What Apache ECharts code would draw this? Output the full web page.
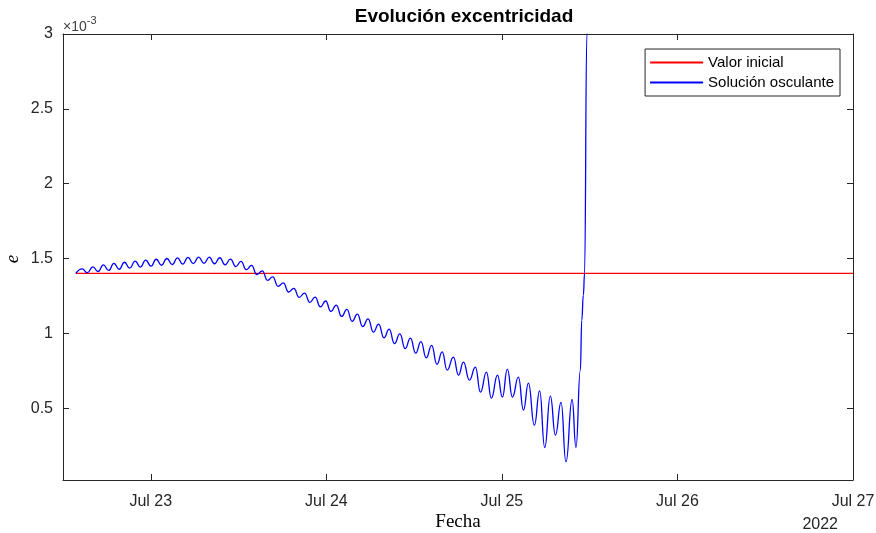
<!DOCTYPE html>
<html>
<head>
<meta charset="utf-8">
<script src="https://cdn.jsdelivr.net/npm/echarts@6/dist/echarts.min.js"></script>
<style>
html, body { margin: 0; padding: 0; background: #fff; }
#chart { width: 876px; height: 533px; }
</style>
</head>
<body>
<div id="chart"></div>
<script>
// tiempo en dias desde 22 jul 2022 00:00, excentricidad en unidades de 1e-3
var oscDays = [
    0.573,
    0.609, 0.639, 0.670, 0.700, 0.730, 0.760, 0.790, 0.820, 0.850, 0.880,
    0.911, 0.941, 0.971, 1.001, 1.031, 1.061, 1.092, 1.122, 1.152, 1.182,
    1.212, 1.242, 1.273, 1.303, 1.333, 1.363, 1.393, 1.423, 1.454, 1.484,
    1.514, 1.544, 1.574, 1.604, 1.635, 1.665, 1.695, 1.725, 1.755, 1.785,
    1.815, 1.845, 1.876, 1.906, 1.936, 1.966, 1.996, 2.026, 2.057, 2.087,
    2.117, 2.147, 2.177, 2.207, 2.238, 2.268, 2.298, 2.328, 2.358, 2.388,
    2.419, 2.449, 2.479, 2.509, 2.539, 2.569, 2.600, 2.630, 2.660, 2.688,
    2.724, 2.753, 2.781, 2.815, 2.849, 2.878, 2.912, 2.940, 2.975, 3.003,
    3.031, 3.060, 3.094, 3.123, 3.151, 3.185, 3.215, 3.244, 3.276, 3.305,
    3.337, 3.365, 3.400, 3.422,
    3.447, 3.455, 3.464, 3.471, 3.484, 3.492
];
var oscVals = [
    1.400,
    1.431, 1.405, 1.444, 1.413, 1.457, 1.420, 1.467, 1.428, 1.475, 1.436,
    1.482, 1.443, 1.489, 1.449, 1.495, 1.455, 1.500, 1.459, 1.504, 1.463,
    1.507, 1.466, 1.509, 1.467, 1.509, 1.465, 1.505, 1.458, 1.496, 1.446,
    1.481, 1.425, 1.454, 1.393, 1.417, 1.354, 1.377, 1.314, 1.337, 1.276,
    1.301, 1.240, 1.269, 1.207, 1.242, 1.177, 1.216, 1.146, 1.189, 1.113,
    1.160, 1.080, 1.128, 1.045, 1.097, 1.008, 1.062, 0.970, 1.028, 0.931,
    0.996, 0.898, 0.968, 0.868, 0.945, 0.836, 0.919, 0.793, 0.876, 0.754,
    0.841, 0.721, 0.807, 0.687, 0.774, 0.607, 0.741, 0.567, 0.721, 0.574,
    0.761, 0.574, 0.707, 0.487, 0.667, 0.386, 0.616, 0.237, 0.580, 0.320,
    0.538, 0.141, 0.558, 0.237,
    0.754, 1.088, 1.255, 1.402, 3.000, 3.300
];

var initDays = [0.573, 5.0];
var initVals = [1.40, 1.40];

var xTickDays = [1, 2, 3, 4, 5];
var yTicks = [0.5, 1, 1.5, 2, 2.5, 3];

var base = new Date(2022, 6, 22).getTime();
var DAY = 86400000;

function toPairs(days, vals) {
    return days.map(function (d, i) { return [d, vals[i]]; });
}

var axisColor = '#262626';
var fontSans = 'Liberation Sans, Arial, sans-serif';

var myChart = echarts.init(document.getElementById('chart'));

var option = {
    animation: false,
    title: {
        text: 'Evolución excentricidad',
        left: 459,
        textAlign: 'center',
        top: 2,
        textStyle: { fontFamily: fontSans, fontSize: 19, fontWeight: 'bold', color: '#000' }
    },
    legend: {
        data: ['Valor inicial', 'Solución osculante'],
        orient: 'vertical',
        right: 36,
        top: 49,
        itemWidth: 53,
        itemHeight: 14,
        itemGap: 5,
        padding: [6, 6, 6, 4],
        borderColor: axisColor,
        borderWidth: 1,
        backgroundColor: '#fff',
        itemStyle: { opacity: 0 },
        textStyle: { fontFamily: fontSans, fontSize: 15, color: '#000' }
    },
    grid: { left: 63, right: 23, top: 34, bottom: 53, outerBoundsMode: 'none' },
    xAxis: [{
        type: 'value',
        position: 'bottom',
        min: 0.5,
        max: 5,
        splitLine: { show: false },
        axisLine: { lineStyle: { color: axisColor, width: 1 } },
        axisTick: { inside: true, length: 6, customValues: xTickDays, lineStyle: { color: axisColor } },
        axisLabel: {
            customValues: xTickDays,
            margin: 14,
            fontFamily: fontSans,
            fontSize: 16,
            color: axisColor,
            formatter: function (v) { return 'Jul ' + new Date(base + v * DAY).getDate(); }
        }
    }, {
        type: 'value',
        position: 'top',
        min: 0.5,
        max: 5,
        splitLine: { show: false },
        axisLine: { lineStyle: { color: axisColor, width: 1 } },
        axisTick: { inside: true, length: 6, customValues: xTickDays, lineStyle: { color: axisColor } },
        axisLabel: { show: false }
    }],
    yAxis: [{
        type: 'value',
        position: 'left',
        min: 0.02,
        max: 3,
        splitLine: { show: false },
        axisLine: { show: true, lineStyle: { color: axisColor, width: 1 } },
        axisTick: { show: true, inside: true, length: 6, customValues: yTicks, lineStyle: { color: axisColor } },
        axisLabel: {
            customValues: yTicks,
            margin: 10,
            fontFamily: fontSans,
            fontSize: 16,
            color: axisColor
        }
    }, {
        type: 'value',
        position: 'right',
        min: 0.02,
        max: 3,
        splitLine: { show: false },
        axisLine: { show: true, lineStyle: { color: axisColor, width: 1 } },
        axisTick: { show: true, inside: true, length: 6, customValues: yTicks, lineStyle: { color: axisColor } },
        axisLabel: { show: false }
    }],
    graphic: [
        {
            type: 'text', left: 63, top: 15,
            style: {
                text: '{a|×10}{b|-3}',
                rich: {
                    a: { fontFamily: fontSans, fontSize: 14, fill: '#404040', verticalAlign: 'bottom' },
                    b: { fontFamily: fontSans, fontSize: 11, fill: '#404040', padding: [0, 0, 8, 0] }
                }
            }
        },
        {
            type: 'text', x: 458, y: 522,
            style: { text: 'Fecha', fontFamily: 'Liberation Serif, serif', fontSize: 19, fill: '#000', align: 'center', verticalAlign: 'middle' }
        },
        {
            type: 'text', x: 13, y: 259, rotation: Math.PI / 2,
            style: { text: 'e', fontFamily: 'Liberation Serif, serif', fontStyle: 'italic', fontSize: 19, fill: '#000', align: 'center', verticalAlign: 'middle' }
        },
        {
            type: 'text', x: 838, y: 525,
            style: { text: '2022', fontFamily: fontSans, fontSize: 16, fill: axisColor, align: 'right', verticalAlign: 'middle' }
        }
    ],
    series: [{
        name: 'Valor inicial',
        type: 'line',
        symbol: 'none',
        color: '#ff0000',
        lineStyle: { color: '#ff0000', width: 1.3 },
        data: toPairs(initDays, initVals)
    }, {
        name: 'Solución osculante',
        type: 'line',
        symbol: 'none',
        smooth: 0.5,
        smoothMonotone: 'x',
        clip: true,
        color: '#0000ff',
        lineStyle: { color: '#0000ff', width: 1.3 },
        data: toPairs(oscDays, oscVals)
    }]
};

myChart.setOption(option);
</script>
</body>
</html>
